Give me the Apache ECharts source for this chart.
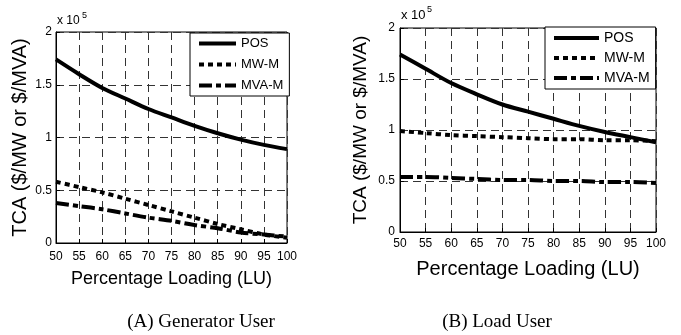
<!DOCTYPE html>
<html>
<head>
<meta charset="utf-8">
<script src="https://cdn.jsdelivr.net/npm/echarts@6/dist/echarts.min.js"></script>
<style>html,body{margin:0;padding:0;background:#fff;}#c{width:681px;height:335px;}</style>
</head>
<body>
<div id="c"></div>
<script>
var loading = [50, 55, 60, 65, 70, 75, 80, 85, 90, 95, 100];
var yTicks = [0, 0.5, 1, 1.5, 2];
var seriesNames = ['POS', 'MW-M', 'MVA-M'];
// (A) Generator User, values in x10^5
var genPOS  = [1.74, 1.60, 1.47, 1.37, 1.27, 1.19, 1.11, 1.04, 0.98, 0.93, 0.89];
var genMW   = [0.58, 0.53, 0.48, 0.42, 0.36, 0.30, 0.24, 0.18, 0.13, 0.08, 0.05];
var genMVA  = [0.38, 0.35, 0.32, 0.28, 0.24, 0.21, 0.17, 0.14, 0.10, 0.08, 0.06];
// (B) Load User, values in x10^5
var loadPOS = [1.74, 1.60, 1.46, 1.35, 1.25, 1.18, 1.11, 1.04, 0.98, 0.93, 0.88];
var loadMW  = [0.99, 0.97, 0.95, 0.94, 0.93, 0.92, 0.91, 0.91, 0.90, 0.90, 0.89];
var loadMVA = [0.54, 0.54, 0.53, 0.52, 0.51, 0.51, 0.50, 0.50, 0.49, 0.49, 0.48];
var captions = ['(A) Generator User', '(B) Load User'];
var xName = 'Percentage Loading (LU)';
var yName = 'TCA ($/MW or $/MVA)';

function pairs(v) { return loading.map(function (x, i) { return [x, v[i]]; }); }
var SANS = 'Liberation Sans, Arial, sans-serif';
var styles = {
  'POS':   { type: 'solid', width: 4 },
  'MW-M':  { type: [5, 4], width: 4 },
  'MVA-M': { type: [13, 4, 5, 4], width: 4 }
};
var grids = [
  { left: 56, top: 32, width: 231, height: 211, show: true, borderColor: '#000', borderWidth: 1 },
  { left: 400, top: 28, width: 256, height: 204, show: true, borderColor: '#000', borderWidth: 1 }
];
function xAx(g, fs, margin, nameFs, nameGap) {
  return {
    type: 'value', gridIndex: g, min: 50, max: 100, interval: 5,
    name: xName, nameLocation: 'middle', nameGap: nameGap,
    nameTextStyle: { fontFamily: SANS, fontSize: nameFs, color: '#000' },
    axisLine: { lineStyle: { color: '#000', width: 1 } },
    axisTick: { inside: true, length: 4, lineStyle: { color: '#000' } },
    axisLabel: { fontFamily: SANS, fontSize: fs, color: '#000', margin: margin },
    splitLine: { show: true, lineStyle: { color: '#333', type: [8, 5], width: 1 } }
  };
}
function yAx(g, fs, margin, nameFs, nameGap) {
  return {
    type: 'value', gridIndex: g, min: 0, max: 2, interval: 0.5,
    name: yName, nameLocation: 'middle', nameGap: nameGap,
    nameTextStyle: { fontFamily: SANS, fontSize: nameFs, color: '#000' },
    axisLine: { show: true, lineStyle: { color: '#000', width: 1 } },
    axisTick: { show: true, inside: true, length: 4, lineStyle: { color: '#000' } },
    axisLabel: { fontFamily: SANS, fontSize: fs, color: '#000', margin: margin,
      formatter: function (v) { return yTicks.indexOf(v) >= 0 ? String(v) : ''; } },
    splitLine: { show: true, lineStyle: { color: '#333', type: [8, 5], width: 1 } }
  };
}
function mkSeries(name, data, xi) {
  var s = styles[name];
  return {
    name: name, type: 'line', xAxisIndex: xi, yAxisIndex: xi, data: pairs(data),
    symbol: 'none', smooth: 0.3, silent: true, animation: false, color: '#000',
    itemStyle: { color: '#000' },
    lineStyle: { color: '#000', width: s.width, type: s.type, cap: 'butt' }
  };
}
function legendFor(left, top, iw, ih, gap, fs) {
  return {
    left: left, top: top, orient: 'vertical',
    data: seriesNames.map(function (n) {
      return { name: n, itemStyle: { opacity: 0 },
        lineStyle: { color: '#000', width: styles[n].width, type: styles[n].type, cap: 'butt', opacity: 1 } };
    }),
    itemWidth: iw, itemHeight: ih, itemGap: gap,
    itemStyle: { opacity: 0 },
    padding: [4, 6, 4, 7], borderColor: '#000', borderWidth: 1, backgroundColor: '#fff',
    textStyle: { fontFamily: SANS, fontSize: fs, color: '#000' }, selectedMode: false
  };
}
var chart = echarts.init(document.getElementById('c'));
chart.setOption({
  backgroundColor: '#fff',
  animation: false,
  grid: grids,
  xAxis: [xAx(0, 12, 8, 18, 27), xAx(1, 12, 6, 20, 27)],
  yAxis: [yAx(0, 12, 4, 20, 26), yAx(1, 12, 5, 19, 30)],
  legend: [legendFor(190, 33, 37, 14, 8, 13), legendFor(545, 27, 45, 15, 6, 14)],
  series: [
    mkSeries('POS', genPOS, 0), mkSeries('MW-M', genMW, 0), mkSeries('MVA-M', genMVA, 0),
    mkSeries('POS', loadPOS, 1), mkSeries('MW-M', loadMW, 1), mkSeries('MVA-M', loadMVA, 1)
  ],
  graphic: [
    { type: 'text', left: 57, top: 15, style: { text: 'x 10', font: '12px ' + SANS, fill: '#000' } },
    { type: 'text', left: 82, top: 11, style: { text: '5', font: '9px ' + SANS, fill: '#000' } },
    { type: 'text', left: 401, top: 9, style: { text: 'x 10', font: '13px ' + SANS, fill: '#000' } },
    { type: 'text', left: 427, top: 5, style: { text: '5', font: '9px ' + SANS, fill: '#000' } },
    { type: 'text', x: 201, y: 322, style: { text: captions[0], font: '19px Liberation Serif, Times New Roman, serif', fill: '#000', align: 'center', verticalAlign: 'middle' } },
    { type: 'text', x: 497, y: 322, style: { text: captions[1], font: '19px Liberation Serif, Times New Roman, serif', fill: '#000', align: 'center', verticalAlign: 'middle' } }
  ]
});
</script>
</body>
</html>
